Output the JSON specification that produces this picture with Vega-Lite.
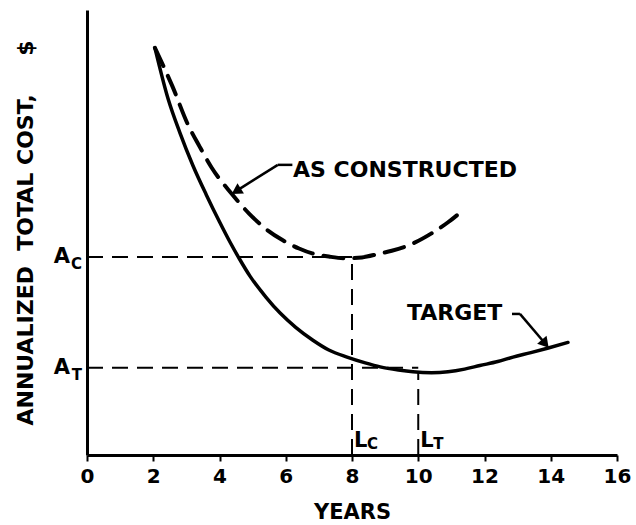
{
  "$schema": "https://vega.github.io/schema/vega-lite/v6.json",
  "width": 530,
  "height": 445,
  "autosize": {"type": "none"},
  "padding": {"left": 87, "top": 10, "right": 19, "bottom": 70},
  "background": "white",
  "config": {"view": {"stroke": null}},
  "datasets": {
    "curves": [
      {"series": "Target", "x": 2.05, "y": 91.5},
      {"series": "Target", "x": 2.45, "y": 80},
      {"series": "Target", "x": 2.8, "y": 72.5},
      {"series": "Target", "x": 3.2, "y": 65},
      {"series": "Target", "x": 3.6, "y": 58.5},
      {"series": "Target", "x": 4.0, "y": 52.4},
      {"series": "Target", "x": 4.32, "y": 47.8},
      {"series": "Target", "x": 4.6, "y": 44.1},
      {"series": "Target", "x": 4.92, "y": 40.2},
      {"series": "Target", "x": 5.4, "y": 35.5},
      {"series": "Target", "x": 5.83, "y": 31.9},
      {"series": "Target", "x": 6.3, "y": 28.7},
      {"series": "Target", "x": 6.82, "y": 25.8},
      {"series": "Target", "x": 7.3, "y": 23.6},
      {"series": "Target", "x": 7.85, "y": 22},
      {"series": "Target", "x": 8.4, "y": 20.7},
      {"series": "Target", "x": 8.85, "y": 19.8},
      {"series": "Target", "x": 9.4, "y": 19.1},
      {"series": "Target", "x": 9.84, "y": 18.7},
      {"series": "Target", "x": 10.4, "y": 18.5},
      {"series": "Target", "x": 10.9, "y": 18.7},
      {"series": "Target", "x": 11.4, "y": 19.3},
      {"series": "Target", "x": 11.86, "y": 20.1},
      {"series": "Target", "x": 12.4, "y": 21},
      {"series": "Target", "x": 12.86, "y": 22},
      {"series": "Target", "x": 13.4, "y": 23},
      {"series": "Target", "x": 13.9, "y": 24},
      {"series": "Target", "x": 14.52, "y": 25.3},
      {"series": "As constructed", "x": 2.05, "y": 91.5},
      {"series": "As constructed", "x": 2.3, "y": 87.5},
      {"series": "As constructed", "x": 2.57, "y": 83},
      {"series": "As constructed", "x": 3.05, "y": 74.2},
      {"series": "As constructed", "x": 3.4, "y": 69.3},
      {"series": "As constructed", "x": 3.77, "y": 64.5},
      {"series": "As constructed", "x": 4.38, "y": 58.6},
      {"series": "As constructed", "x": 4.9, "y": 54.2},
      {"series": "As constructed", "x": 5.4, "y": 50.8},
      {"series": "As constructed", "x": 5.9, "y": 48.3},
      {"series": "As constructed", "x": 6.4, "y": 46.4},
      {"series": "As constructed", "x": 6.8, "y": 45.3},
      {"series": "As constructed", "x": 7.3, "y": 44.6},
      {"series": "As constructed", "x": 7.8, "y": 44.2},
      {"series": "As constructed", "x": 8.3, "y": 44.4},
      {"series": "As constructed", "x": 8.8, "y": 45.2},
      {"series": "As constructed", "x": 9.2, "y": 45.9},
      {"series": "As constructed", "x": 9.8, "y": 47.4},
      {"series": "As constructed", "x": 10.4, "y": 49.8},
      {"series": "As constructed", "x": 10.9, "y": 52.3},
      {"series": "As constructed", "x": 11.35, "y": 55}
    ],
    "refs": [
      {"x": 0, "y": 44.5, "x2": 8, "y2": 44.5},
      {"x": 0, "y": 19.6, "x2": 10, "y2": 19.6},
      {"x": 8, "y": 0, "x2": 8, "y2": 44.5},
      {"x": 10, "y": 0, "x2": 10, "y2": 18.7}
    ],
    "alabels": [
      {"sub": "C", "y": 44.5},
      {"sub": "T", "y": 19.6}
    ],
    "llabels": [
      {"sub": "C", "x": 8},
      {"sub": "T", "x": 10}
    ],
    "annotations": [
      {"label": "AS CONSTRUCTED", "x": 6.22, "y": 64},
      {"label": "TARGET", "x": 9.66, "y": 31.9}
    ],
    "leaders": [
      {"x": 6.2, "y": 65.2, "x2": 5.76, "y2": 65.2},
      {"x": 5.76, "y": 65.2, "x2": 4.5, "y2": 59.3},
      {"x": 12.83, "y": 31.7, "x2": 13.07, "y2": 31.7},
      {"x": 13.07, "y": 31.7, "x2": 13.85, "y2": 24.9}
    ],
    "head1": [{"x": 4.55, "y": 59.5}],
    "head2": [{"x": 13.8, "y": 25.3}]
  },
  "layer": [
    {
      "data": {"name": "refs"},
      "mark": {"type": "rule", "color": "black", "strokeWidth": 2, "strokeDash": [16, 9]},
      "encoding": {
        "x": {"field": "x", "type": "quantitative", "scale": {"domain": [0, 16], "nice": false},
          "axis": {"values": [0, 2, 4, 6, 8, 10, 12, 14, 16], "grid": false, "domainWidth": 3, "domainColor": "black",
            "tickColor": "black", "tickWidth": 2, "tickSize": 6, "labelFont": "DejaVu Sans", "labelFontSize": 20,
            "labelFontWeight": "bold", "labelColor": "black", "labelPadding": 5, "labelFlush": false,
            "title": "YEARS", "titleFont": "DejaVu Sans", "titleFontSize": 21, "titleFontWeight": "bold",
            "titleColor": "black", "titlePadding": 15}},
        "y": {"field": "y", "type": "quantitative", "scale": {"domain": [0, 100], "nice": false},
          "axis": {"grid": false, "ticks": false, "labels": false, "domainWidth": 3, "domainColor": "black",
            "title": "ANNUALIZED\u00a0\u00a0TOTAL COST,\u00a0\u00a0\u00a0\u00a0\u00a0$", "titleFont": "DejaVu Sans",
            "titleFontSize": 22, "titleFontWeight": "bold", "titleColor": "black", "titlePadding": 50}},
        "x2": {"field": "x2"},
        "y2": {"field": "y2"}
      }
    },
    {
      "data": {"name": "curves"},
      "transform": [{"filter": "datum.series === 'Target'"}],
      "mark": {"type": "line", "color": "black", "strokeWidth": 3.5, "interpolate": "monotone", "strokeCap": "round"},
      "encoding": {
        "x": {"field": "x", "type": "quantitative"},
        "y": {"field": "y", "type": "quantitative"}
      }
    },
    {
      "data": {"name": "curves"},
      "transform": [{"filter": "datum.series === 'As constructed'"}],
      "mark": {"type": "line", "color": "black", "strokeWidth": 4, "interpolate": "monotone", "strokeDash": [20, 11], "strokeCap": "round"},
      "encoding": {
        "x": {"field": "x", "type": "quantitative"},
        "y": {"field": "y", "type": "quantitative"}
      }
    },
    {
      "data": {"name": "leaders"},
      "mark": {"type": "rule", "color": "black", "strokeWidth": 2.5},
      "encoding": {
        "x": {"field": "x", "type": "quantitative"},
        "y": {"field": "y", "type": "quantitative"},
        "x2": {"field": "x2"},
        "y2": {"field": "y2"}
      }
    },
    {
      "data": {"name": "head1"},
      "mark": {"type": "point", "shape": "triangle", "filled": true, "color": "black", "size": 150, "angle": 238, "opacity": 1},
      "encoding": {
        "x": {"field": "x", "type": "quantitative"},
        "y": {"field": "y", "type": "quantitative"}
      }
    },
    {
      "data": {"name": "head2"},
      "mark": {"type": "point", "shape": "triangle", "filled": true, "color": "black", "size": 150, "angle": 140, "opacity": 1},
      "encoding": {
        "x": {"field": "x", "type": "quantitative"},
        "y": {"field": "y", "type": "quantitative"}
      }
    },
    {
      "data": {"name": "annotations"},
      "mark": {"type": "text", "align": "left", "baseline": "middle", "font": "DejaVu Sans", "fontSize": 22, "fontWeight": "bold", "color": "black"},
      "encoding": {
        "x": {"field": "x", "type": "quantitative"},
        "y": {"field": "y", "type": "quantitative"},
        "text": {"field": "label"}
      }
    },
    {
      "data": {"name": "alabels"},
      "mark": {"type": "text", "align": "right", "baseline": "middle", "dx": -17, "font": "DejaVu Sans", "fontSize": 21, "fontWeight": "bold", "color": "black", "text": "A"},
      "encoding": {
        "x": {"datum": 0, "type": "quantitative"},
        "y": {"field": "y", "type": "quantitative"}
      }
    },
    {
      "data": {"name": "alabels"},
      "mark": {"type": "text", "align": "right", "baseline": "middle", "dx": -5, "dy": 7, "font": "DejaVu Sans", "fontSize": 15, "fontWeight": "bold", "color": "black"},
      "encoding": {
        "x": {"datum": 0, "type": "quantitative"},
        "y": {"field": "y", "type": "quantitative"},
        "text": {"field": "sub"}
      }
    },
    {
      "data": {"name": "llabels"},
      "mark": {"type": "text", "align": "left", "baseline": "bottom", "dx": 2, "dy": -4, "font": "DejaVu Sans", "fontSize": 21, "fontWeight": "bold", "color": "black", "text": "L"},
      "encoding": {
        "x": {"field": "x", "type": "quantitative"},
        "y": {"datum": 0, "type": "quantitative"}
      }
    },
    {
      "data": {"name": "llabels"},
      "mark": {"type": "text", "align": "left", "baseline": "bottom", "dx": 15, "dy": -3, "font": "DejaVu Sans", "fontSize": 15, "fontWeight": "bold", "color": "black"},
      "encoding": {
        "x": {"field": "x", "type": "quantitative"},
        "y": {"datum": 0, "type": "quantitative"},
        "text": {"field": "sub"}
      }
    }
  ]
}
